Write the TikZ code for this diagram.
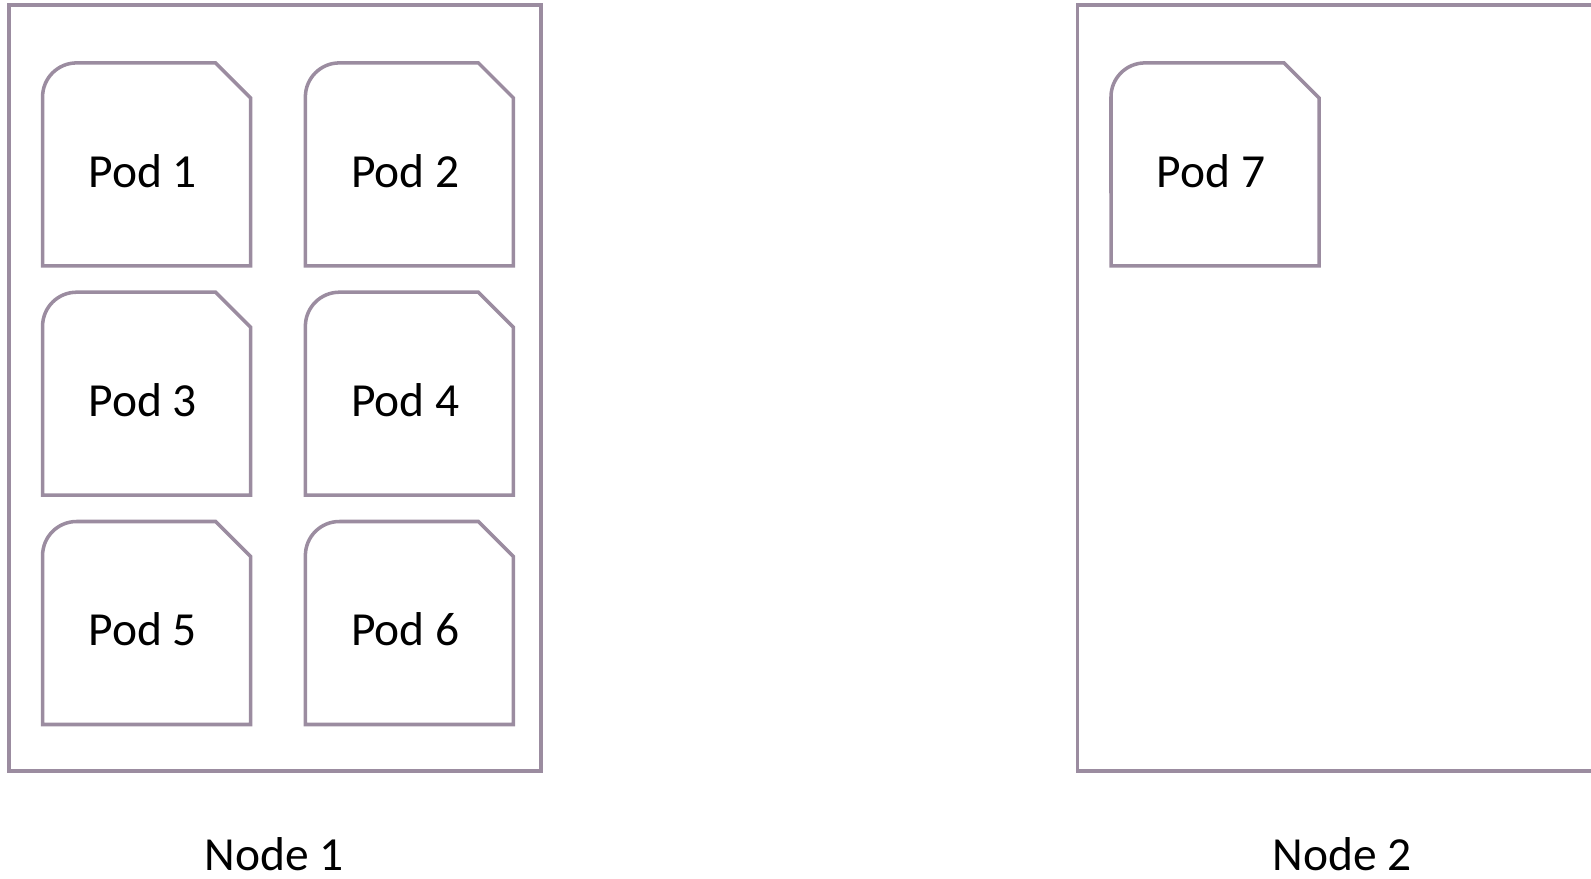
\documentclass[tikz,border=0pt]{standalone}
\usepackage{fontspec}
\setmainfont{Carlito}
\usepackage{tikz}
\usetikzlibrary{positioning}
\definecolor{podline}{RGB}{155,140,160}

\begin{document}
\begin{tikzpicture}[x=0.01cm,y=-0.01cm,
  frame/.style={draw=podline,line width=1pt},
  podtext/.style={font=\fontsize{13.5}{16}\selectfont,inner sep=0pt}]
\clip(0,0)rectangle(1591,879);
% the two machines
\draw[frame](9.1,5.1)rectangle(540.8,771.2);
\draw[frame](1600,5.1)--(1077.6,5.1)--(1077.6,771.2)--(1600,771.2);
\node[podtext](node1)at(274,854){Node 1};
\node[podtext](node2)at(1342,854){Node 2};
% pods
\foreach \px/\py/\n in {42.6/62.9/1,305.4/62.9/2,42.6/292.2/3,305.4/292.2/4,42.6/521.5/5,305.4/521.5/6,1111/62.9/7}{
\draw[frame](\px,\py+203)--(\px+208,\py+203)--(\px+208,\py+35)--(\px+173,\py)
--(\px+34,\py)arc[start angle=90,end angle=180,radius=0.34cm]--cycle;
\node[podtext](pod\n)at(\px+100,\py+108){Pod \n};
}
\end{tikzpicture}
\end{document}
